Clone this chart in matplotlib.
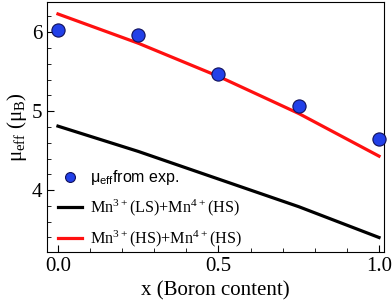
import numpy as np
import matplotlib.pyplot as plt

plt.rcParams['font.family'] = 'Liberation Serif'
plt.rcParams['mathtext.default'] = 'regular'

# experimental mu_eff
x_exp = [0.0, 0.25, 0.5, 0.75, 1.0]
mu_exp = [6.03, 5.97, 5.47, 5.07, 4.65]

# calculated curves
x_calc = [0.0, 0.25, 0.5, 0.75, 1.0]
mu_ls = [4.81, 4.49, 4.14, 3.79, 3.40]
mu_hs = [6.23, 5.86, 5.44, 4.97, 4.43]

fig = plt.figure(figsize=(3.92, 3.04), dpi=100)
ax = fig.add_axes([0.12, 0.172, 0.86, 0.821])

ax.plot(x_exp, mu_exp, 'o', color='#2240e8', mec='#10105a', mew=0.8, ms=9.5,
        label=r'$\mu_{eff}$from exp.', zorder=3, clip_on=False)
ax.plot(x_calc, mu_ls, color='black', lw=2.3, label=r'Mn$^{3+}$(LS)+Mn$^{4+}$(HS)')
ax.plot(x_calc, mu_hs, color='#ff1010', lw=2.3, label=r'Mn$^{3+}$(HS)+Mn$^{4+}$(HS)')

ax.set_xlim(-0.034, 1.016)
ax.set_ylim(3.22, 6.38)
ax.set_xticks([0.0, 0.5, 1.0])
ax.set_xticks(np.arange(0, 1.01, 0.1), minor=True)
ax.set_yticks([4, 5, 6])
ax.set_yticks(np.arange(3.4, 6.3, 0.2), minor=True)
ax.tick_params(which='both', direction='in', labelsize=15)
ax.tick_params(which='major', length=5)
ax.tick_params(which='minor', length=3)

ax.set_xlabel('x (Boron content)', fontsize=15)
ax.set_ylabel(r'$\mu_{eff}$ ($\mu_B$)', fontsize=15, labelpad=2)

leg = ax.legend(loc='lower left', frameon=False, fontsize=11.6, handlelength=1.5,
                handletextpad=0.5, labelspacing=0.65, borderaxespad=0.05,
                markerscale=0.75, bbox_to_anchor=(0.01, -0.02))
leg.get_texts()[0].set_family('Liberation Sans')
leg.get_texts()[0].set_fontsize(11.5)

fig.savefig('out.png', dpi=100)
